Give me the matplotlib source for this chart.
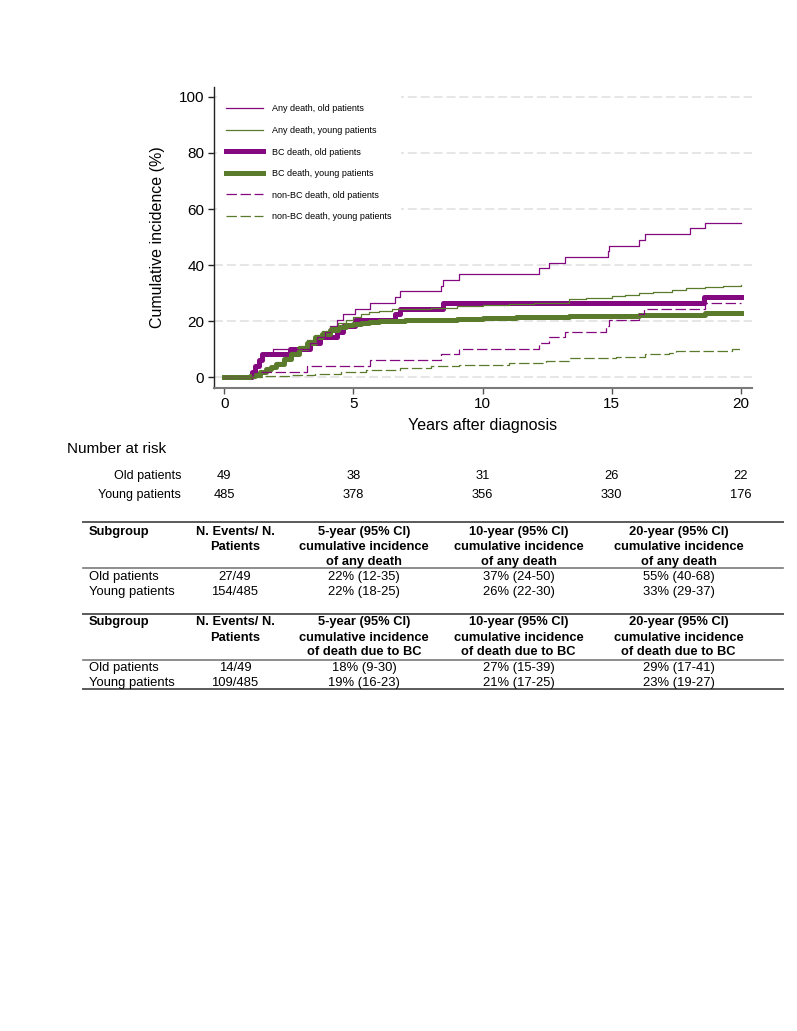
import matplotlib
matplotlib.use("Agg")
import matplotlib.pyplot as plt
from matplotlib.lines import Line2D
from matplotlib.transforms import blended_transform_factory

plt.rcParams['font.family'] = ['Liberation Sans', 'DejaVu Sans']
plt.rcParams['lines.scale_dashes'] = False

# cumulative incidence (%), step functions
any_old_t = [0, 1.07, 1.2, 1.33, 1.45, 1.88, 3.32, 3.6, 3.9, 4.1, 4.35, 4.6, 5.06, 5.64, 6.6, 6.8,
             8.37, 8.47, 9.09, 12.2, 12.56, 13.2, 14.84, 14.9, 16.06, 16.28, 18.03, 18.6, 20]
any_old_v = [0, 2.0, 4.1, 6.1, 8.2, 10.2, 12.2, 14.3, 16.3, 18.4, 20.4, 22.4, 24.5, 26.5, 28.6, 30.6,
             32.7, 34.7, 36.7, 38.8, 40.8, 42.9, 44.9, 46.9, 49.0, 51.0, 53.1, 55.1, 55.1]

any_young_t = [0, 0.8, 1.0, 1.2, 1.4, 1.6, 1.8, 2.0, 2.3, 2.6, 2.9, 3.2, 3.5, 3.8, 4.1, 4.4, 4.7, 5.0,
               5.3, 5.6, 6.0, 6.5, 7.0, 8.0, 9.0, 10.0, 11.04, 12.0, 13.36, 14.0, 15.0, 15.5, 16.06,
               16.6, 17.35, 17.86, 18.6, 19.3, 20]
any_young_v = [0, 0.2, 0.6, 1.2, 2.0, 3.0, 4.2, 5.3, 7.2, 9.2, 11.3, 13.2, 15.0, 16.5, 17.8, 19.2, 20.4, 21.6,
               22.5, 23.2, 23.8, 24.2, 24.5, 24.8, 25.3, 25.9, 26.1, 26.4, 28.0, 28.3, 28.9, 29.3, 29.9,
               30.4, 31.3, 31.9, 32.1, 32.4, 32.8]

bc_old_t = [0, 1.07, 1.2, 1.33, 1.45, 2.55, 3.32, 3.7, 4.35, 4.6, 5.06, 6.6, 6.8, 8.47, 18.57, 20]
bc_old_v = [0, 2.0, 4.1, 6.1, 8.2, 10.2, 12.2, 14.3, 16.3, 18.4, 20.4, 22.4, 24.5, 26.5, 28.6, 28.6]

bc_young_t = [0, 0.8, 1.0, 1.2, 1.4, 1.6, 1.8, 2.0, 2.3, 2.6, 2.9, 3.2, 3.5, 3.8, 4.1, 4.4, 4.7, 5.0,
              5.3, 5.6, 6.0, 6.5, 7.0, 8.0, 9.0, 10.0, 11.3, 13.36, 16.06, 18.6, 20]
bc_young_v = [0, 0.2, 0.5, 1.0, 1.8, 2.8, 3.8, 4.8, 6.5, 8.4, 10.4, 12.3, 14.3, 15.6, 16.8, 17.8, 18.5, 19.0,
              19.5, 19.7, 19.9, 20.1, 20.3, 20.5, 20.8, 21.0, 21.5, 21.8, 22.3, 22.9, 22.9]

nonbc_old_t = [0, 1.1, 3.19, 5.64, 8.37, 9.09, 12.2, 12.56, 13.2, 14.78, 14.9, 16.06, 16.26, 18.6, 20]
nonbc_old_v = [0, 2.0, 4.1, 6.1, 8.2, 10.2, 12.2, 14.3, 16.3, 18.4, 20.4, 22.4, 24.5, 26.5, 26.5]

nonbc_young_t = [0, 0.8, 1.5, 2.5, 3.5, 4.5, 5.5, 6.8, 8.0, 9.1, 11.04, 12.46, 13.36, 15.16, 16.3,
                 17.2, 17.5, 19.66, 20]
nonbc_young_v = [0, 0.1, 0.4, 0.8, 1.3, 1.9, 2.6, 3.4, 3.9, 4.3, 5.2, 5.8, 6.8, 7.3, 8.2,
                 8.8, 9.4, 10.2, 10.2]

risk_times = [0, 5, 10, 15, 20]
risk_old = [49, 38, 31, 26, 22]
risk_young = [485, 378, 356, 330, 176]

header_any = [["Subgroup"], ["N. Events/ N.", "Patients"],
              ["5-year (95% CI)", "cumulative incidence", "of any death"],
              ["10-year (95% CI)", "cumulative incidence", "of any death"],
              ["20-year (95% CI)", "cumulative incidence", "of any death"]]
rows_any = [["Old patients", "27/49", "22% (12-35)", "37% (24-50)", "55% (40-68)"],
            ["Young patients", "154/485", "22% (18-25)", "26% (22-30)", "33% (29-37)"]]
header_bc = [["Subgroup"], ["N. Events/ N.", "Patients"],
             ["5-year (95% CI)", "cumulative incidence", "of death due to BC"],
             ["10-year (95% CI)", "cumulative incidence", "of death due to BC"],
             ["20-year (95% CI)", "cumulative incidence", "of death due to BC"]]
rows_bc = [["Old patients", "14/49", "18% (9-30)", "27% (15-39)", "29% (17-41)"],
           ["Young patients", "109/485", "19% (16-23)", "21% (17-25)", "23% (19-27)"]]

purple = '#84087f'
green = '#5a7b2c'

W, H = 797, 1031
fig = plt.figure(figsize=(W / 100, H / 100), dpi=100)
ax = fig.add_axes([214 / W, 1 - 387.7 / H, 538 / W, 301 / H])

ax.plot(bc_old_t, bc_old_v, drawstyle='steps-post', color=purple, lw=3.6, label='BC death, old patients', zorder=3)
ax.plot(bc_young_t, bc_young_v, drawstyle='steps-post', color=green, lw=3.6, label='BC death, young patients', zorder=3)
ax.plot(any_old_t, any_old_v, drawstyle='steps-post', color=purple, lw=0.9, label='Any death, old patients', zorder=4)
ax.plot(any_young_t, any_young_v, drawstyle='steps-post', color=green, lw=0.9, label='Any death, young patients', zorder=4)
ax.plot(nonbc_old_t, nonbc_old_v, drawstyle='steps-post', color=purple, lw=0.9, ls=(0, (7.5, 2.6)),
        label='non-BC death, old patients', zorder=4)
ax.plot(nonbc_young_t, nonbc_young_v, drawstyle='steps-post', color=green, lw=0.9, ls=(0, (7.5, 2.6)),
        label='non-BC death, young patients', zorder=4)

ax.set_xlim(-0.4, 20.43)
ax.set_ylim(-3.7, 103.6)
ax.set_xticks(risk_times)
ax.set_yticks([0, 20, 40, 60, 80, 100])
ax.yaxis.grid(True, color='#e4e4e4', lw=1.3, ls=(0, (6.5, 2.8)))
ax.set_axisbelow(True)
for s in ['top', 'right']:
    ax.spines[s].set_visible(False)
ax.spines['left'].set_color('#222222')
ax.spines['left'].set_linewidth(1.0)
ax.spines['bottom'].set_color('#7a7a7a')
ax.spines['bottom'].set_linewidth(1.5)
ax.tick_params(axis='y', direction='out', length=4.5, width=1, pad=2.5, labelsize=11, color='#222222')
ax.tick_params(axis='x', direction='out', length=4, width=1, pad=2.5, labelsize=11, color='#555555')

ax.set_ylabel('Cumulative incidence (%)', fontsize=11.5)
ax.yaxis.set_label_coords(-0.091, 0.5)
ax.set_xlabel('Years after diagnosis', fontsize=11.5)
ax.xaxis.set_label_coords(0.5, -0.1)

order = [2, 3, 0, 1, 4, 5]
handles, labels = ax.get_legend_handles_labels()
leg = ax.legend([handles[i] for i in order], [labels[i] for i in order],
                loc='upper left', bbox_to_anchor=(0.0056, 0.971), borderaxespad=0,
                fontsize=6.5, frameon=True, facecolor='white', edgecolor='none', framealpha=1,
                borderpad=1.0, handlelength=4.1, handletextpad=1.0, labelspacing=1.39)
leg.get_frame().set_boxstyle('square', pad=0)

# number at risk
fig.text(67 / W, 1 - 449 / H, 'Number at risk', fontsize=11, ha='left', va='center')
trans = blended_transform_factory(ax.transData, ax.transAxes)
for name, counts, yrow in [('Old patients', risk_old, 475.7), ('Young patients', risk_young, 495)]:
    fy = 1 - yrow / H
    fig.text(181 / W, fy, name, fontsize=9, ha='right', va='center')
    for t, n in zip(risk_times, counts):
        ax.text(t, -(yrow - 387.7) / 301, str(n), transform=trans, fontsize=9.3,
                ha='center', va='center', clip_on=False)

# summary tables
col_x = [89, 235, 364, 518.5, 678.5]
col_ha = ['left', 'center', 'center', 'center', 'center']


def hline(y, lw=1.4, color='#5a5a5a'):
    fig.add_artist(Line2D([83 / W, 783 / W], [1 - y / H, 1 - y / H], color=color, lw=lw))


def draw_table(header, rows, top, header_ys, row_ys, header_rule):
    hline(top)
    hline(header_rule, lw=1.2, color='#7a7a7a')
    for col, lines in enumerate(header):
        for k, txt in enumerate(lines):
            fig.text(col_x[col] / W, 1 - header_ys[k] / H, txt, fontsize=9.3, fontweight='bold',
                     ha=col_ha[col], va='center')
    for r, row in enumerate(rows):
        for col, txt in enumerate(row):
            fig.text(col_x[col] / W, 1 - row_ys[r] / H, txt, fontsize=9.4, ha=col_ha[col], va='center')


draw_table(header_any, rows_any, 522.3, [531.7, 546.7, 561.5], [577.3, 592.3], 568.3)
draw_table(header_bc, rows_bc, 613.7, [622.3, 637.7, 651.7], [668.3, 682.7], 659.7)
hline(689)

fig.savefig('out.png', dpi=100)
